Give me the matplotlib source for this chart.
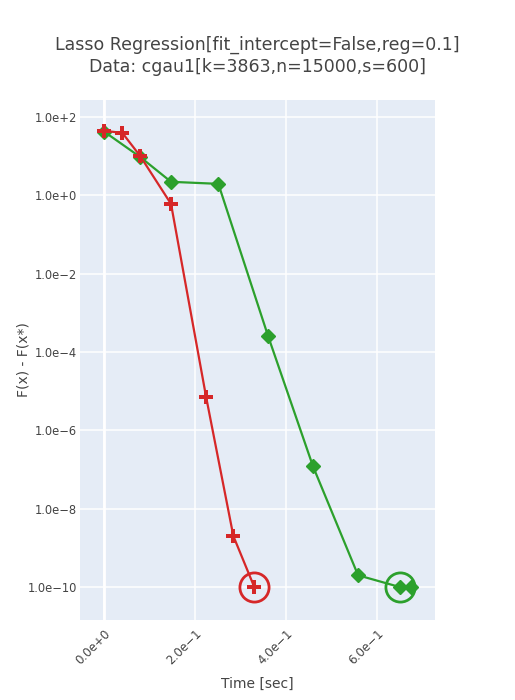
import numpy as np
import matplotlib
matplotlib.use("Agg")
import matplotlib.pyplot as plt
from matplotlib.ticker import FixedLocator

# red series (cross markers)
red_time = [0.0, 0.040, 0.079, 0.147, 0.224, 0.284, 0.330]
red_gap = [44.0, 39.0, 10.1, 0.60, 7.2e-6, 2.0e-9, 1.0e-10]

# green series (diamond markers)
green_time = [0.0, 0.079, 0.147, 0.251, 0.360, 0.459, 0.558, 0.650, 0.675]
green_gap = [42.0, 9.5, 2.2, 1.95, 2.6e-4, 1.2e-7, 2.0e-10, 1.0e-10, 1.0e-10]

x_ticks = [0.0, 0.2, 0.4, 0.6]
x_tick_labels = ["0.0e+0", "2.0e\u22121", "4.0e\u22121", "6.0e\u22121"]
y_ticks = [1e2, 1e0, 1e-2, 1e-4, 1e-6, 1e-8, 1e-10]
y_tick_labels = ["1.0e+2", "1.0e+0", "1.0e\u22122", "1.0e\u22124",
                 "1.0e\u22126", "1.0e\u22128", "1.0e\u221210"]

RED = "#d62728"
GREEN = "#2ca02c"
TXT = "#444444"

plt.rcParams["font.family"] = ["DejaVu Sans"]

fig = plt.figure(figsize=(5.15, 7.0), dpi=100)
ax = fig.add_axes([80 / 515, 1 - 620 / 700, 355 / 515, 520 / 700])
ax.set_facecolor("#E5ECF6")
for s in ax.spines.values():
    s.set_visible(False)

ax.set_yscale("log")
ax.set_xlim(-0.053, 0.727)
ax.set_ylim(10 ** -10.84, 10 ** 2.43)

ax.xaxis.set_major_locator(FixedLocator(x_ticks))
ax.set_xticklabels(x_tick_labels, rotation=45, ha="right", rotation_mode="anchor")
ax.yaxis.set_major_locator(FixedLocator(y_ticks))
ax.set_yticklabels(y_tick_labels)
ax.yaxis.set_minor_locator(FixedLocator([]))
ax.tick_params(axis="x", length=0, labelsize=8.6, colors=TXT, pad=5)
ax.tick_params(axis="y", length=0, labelsize=8.3, colors=TXT, pad=2)
ax.grid(True, color="white", linewidth=1.1)
ax.set_axisbelow(True)
ax.axvline(0, color="white", linewidth=2, zorder=0.5)

ax.plot(green_time, green_gap, color=GREEN, linewidth=1.6, marker="D",
        markersize=7, zorder=3)
ax.plot(red_time, red_gap, color=RED, linewidth=1.6, marker="P",
        markersize=10.5, markeredgewidth=0, zorder=4)

# circles on the final points
ax.plot(red_time[-1], red_gap[-1], marker="o", markersize=21, markerfacecolor="none",
        markeredgecolor=RED, markeredgewidth=2, zorder=5)
ax.plot(green_time[-2], green_gap[-2], marker="o", markersize=21, markerfacecolor="none",
        markeredgecolor=GREEN, markeredgewidth=2, zorder=5)

ax.set_xlabel("Time [sec]", fontsize=10, color=TXT)
ax.set_ylabel("F(x) - F(x*)", fontsize=10, color=TXT)
ax.xaxis.set_label_coords((257 - 80) / 355, -(677 - 620) / 520)
ax.yaxis.set_label_coords(-(80 - 31) / 355, 0.5)

fig.text(0.5, 1 - 45 / 700, "Lasso Regression[fit_intercept=False,reg=0.1]",
         ha="center", va="center", fontsize=12.5, color=TXT)
fig.text(0.5, 1 - 67 / 700, "Data: cgau1[k=3863,n=15000,s=600]",
         ha="center", va="center", fontsize=12.5, color=TXT)

fig.savefig("out.png", dpi=100)
